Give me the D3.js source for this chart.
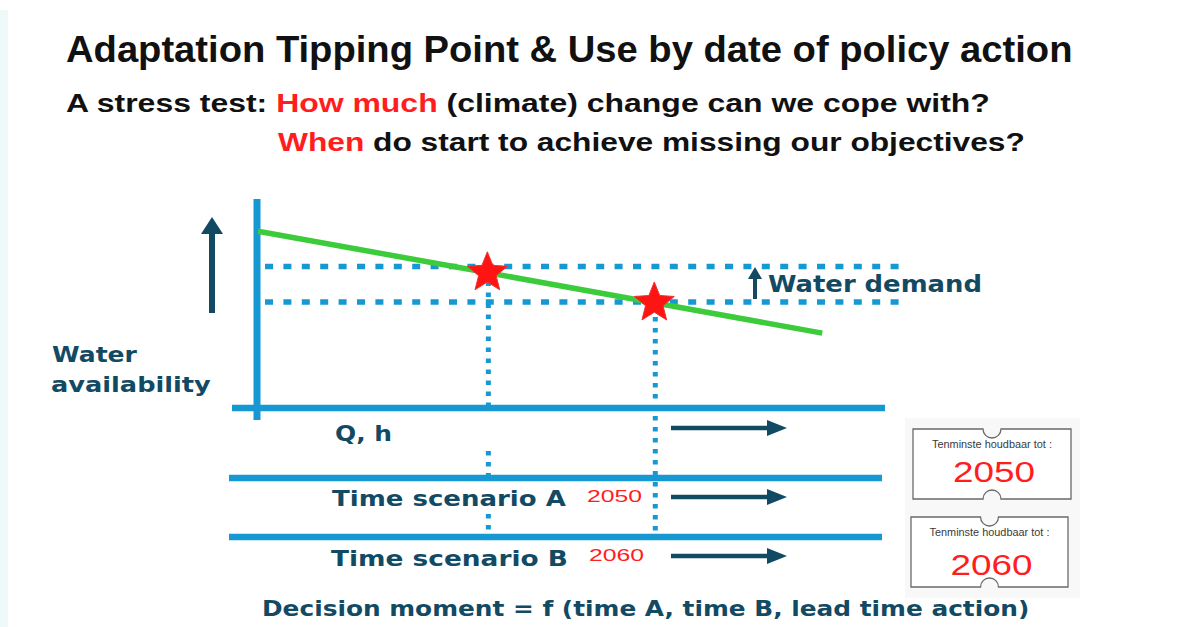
<!DOCTYPE html>
<html>
<head>
<meta charset="utf-8">
<script src="https://cdn.jsdelivr.net/npm/d3@7"></script>
<style>
  html, body { margin: 0; padding: 0; background: #fff; }
  svg { display: block; }
</style>
</head>
<body>
<svg id="chart" width="1198" height="627"></svg>
<script>
// ---------------- DATA ----------------
const titleText = "Adaptation Tipping Point & Use by date of policy action";
const questionLine1 = [["A stress test: ", "black"], ["How much", "red"], [" (climate) change can we cope with?", "black"]];
const questionLine2 = [["When", "red"], [" do start to achieve missing our objectives?", "black"]];
const yAxisLabel = ["Water", "availability"];
const demandLabel = "Water demand";

const lineYears = [2036.2, 2050, 2060, 2070];      // water availability curve
const availability = [85, 65, 50.5, 36];
const demandLevels = [68, 51];                     // current / increased water demand
const tippingYears = [2050, 2060];                 // adaptation tipping points
const tippingValues = [65, 50.5];

const rowLabels = ["Q, h", "Time scenario A", "Time scenario B"];
const rowYears = ["", "2050", "2060"];
const ticketCaption = "Tenminste houdbaar tot :";
const ticketYears = ["2050", "2060"];
const footerText = "Decision moment = f (time A, time B, lead time action)";

// ---------------- STYLE ----------------
const BLUE = "#1699d3", GREEN = "#3ccb3a", TEAL = "#124a64", RED = "#ff1d1d", STAR = "#ff1414";
const SANS = "'Liberation Sans', Arial, sans-serif";
const GEO = "'DejaVu Sans', 'Open Sans', sans-serif";

const svg = d3.select("#chart");
svg.append("rect").attr("width", 1198).attr("height", 627).attr("fill", "#fff");
svg.append("rect").attr("x", 0).attr("y", 10).attr("width", 8).attr("height", 617).attr("fill", "#eef9f9");

// scales
const x = d3.scaleLinear().domain([2036.2, 2074]).range([258, 889]);
const y = d3.scaleLinear().domain([0, 100]).range([408, 200]);
const rowY = d3.scaleOrdinal().domain(rowLabels).range([408, 478, 537]);

// text helper: draw text then stretch horizontally to target width
function fitText(parent, parts, x0, base, size, width, opts = {}) {
  const g = parent.append("g").attr("transform", `translate(${x0},${base})`);
  const t = g.append("text")
    .attr("x", 0).attr("y", 0)
    .attr("font-family", opts.family || SANS)
    .attr("font-weight", opts.weight || "bold")
    .attr("font-size", size)
    .attr("text-anchor", "start");
  parts.forEach(([s, c]) => t.append("tspan").attr("fill", c).text(s));
  const w = t.node().getComputedTextLength();
  const sx = width / w;
  t.attr("transform", `scale(${sx},1)`);
  return g;
}

// ---------- title ----------
fitText(svg, [[titleText, "#111"]], 66, 62, 37, 1007);
fitText(svg, questionLine1.map(([s, c]) => [s, c === "red" ? RED : "#111"]), 66, 112, 26, 924);
fitText(svg, questionLine2.map(([s, c]) => [s, c === "red" ? RED : "#111"]), 278, 151, 26, 747);

// ---------- ticket background ----------
svg.append("rect").attr("x", 905).attr("y", 418).attr("width", 175).attr("height", 180).attr("fill", "#f8f8f8");

// ---------- timeline rows ----------
const rowEnds = [885, 882, 882];
const rowStarts = [232, 229, 229];
svg.append("g").selectAll("line").data(rowLabels).join("line")
  .attr("x1", (d, i) => rowStarts[i]).attr("x2", (d, i) => rowEnds[i])
  .attr("y1", d => rowY(d)).attr("y2", d => rowY(d))
  .attr("stroke", BLUE).attr("stroke-width", 6.5);

// ---------- dotted demand lines ----------
svg.append("g").selectAll("line").data(demandLevels).join("line")
  .attr("x1", 265).attr("x2", 908)
  .attr("y1", d => y(d)).attr("y2", d => y(d))
  .attr("stroke", BLUE).attr("stroke-width", 5.5)
  .attr("stroke-dasharray", "8,10.4");

// ---------- vertical dotted lines at tipping points ----------
const vd = svg.append("g").attr("stroke", BLUE).attr("stroke-width", 5).attr("stroke-dasharray", "4.5,6.5");
vd.append("line").attr("x1", x(tippingYears[0])).attr("x2", x(tippingYears[0]))
  .attr("y1", y(demandLevels[0]) + 4).attr("y2", rowY(rowLabels[0]));
vd.append("line").attr("x1", x(tippingYears[0])).attr("x2", x(tippingYears[0]))
  .attr("y1", rowY(rowLabels[1]) - 27).attr("y2", rowY(rowLabels[1]));
vd.append("line").attr("x1", x(tippingYears[0])).attr("x2", x(tippingYears[0]))
  .attr("y1", rowY(rowLabels[2]) - 23).attr("y2", rowY(rowLabels[2]));
vd.append("line").attr("x1", x(tippingYears[1])).attr("x2", x(tippingYears[1]))
  .attr("y1", y(demandLevels[1]) + 4).attr("y2", rowY(rowLabels[2]));

// ---------- vertical axis ----------
svg.append("line").attr("x1", 257).attr("x2", 257).attr("y1", y(100.5)).attr("y2", 420)
  .attr("stroke", BLUE).attr("stroke-width", 7);

// ---------- availability line ----------
const line = d3.line().x((d, i) => x(lineYears[i])).y(d => y(d));
svg.append("path").datum(availability).attr("d", line)
  .attr("fill", "none").attr("stroke", GREEN).attr("stroke-width", 5.5);

// ---------- stars ----------
function starPath(R, r) {
  const pts = [];
  for (let i = 0; i < 10; i++) {
    const a = -Math.PI / 2 + i * Math.PI / 5;
    const rad = i % 2 === 0 ? R : r;
    pts.push([rad * Math.cos(a), rad * Math.sin(a)]);
  }
  return "M" + pts.map(p => p.join(",")).join("L") + "Z";
}
svg.append("g").selectAll("path").data(tippingYears).join("path")
  .attr("d", starPath(21, 9.2))
  .attr("transform", (d, i) => `translate(${x(d) - 1},${y(tippingValues[i])})`)
  .attr("fill", STAR).attr("stroke", "#f03030").attr("stroke-width", 1);

// ---------- arrows ----------
function arrow(x1, y1, x2, y2, sw, hl, hw) {
  const ang = Math.atan2(y2 - y1, x2 - x1);
  const bx = x2 - hl * Math.cos(ang), by = y2 - hl * Math.sin(ang);
  const g = svg.append("g");
  g.append("line").attr("x1", x1).attr("y1", y1).attr("x2", bx + Math.cos(ang)).attr("y2", by + Math.sin(ang))
    .attr("stroke", TEAL).attr("stroke-width", sw);
  const px = -Math.sin(ang), py = Math.cos(ang);
  g.append("path").attr("d", `M${x2},${y2}L${bx + px * hw},${by + py * hw}L${bx - px * hw},${by - py * hw}Z`)
    .attr("fill", TEAL);
}
arrow(212, 313, 212, 217, 6, 17, 11);
arrow(755, 299, 755, 267, 4, 12, 7);
const arrowY = [428, 497, 556];
rowLabels.forEach((d, i) => arrow(671, arrowY[i], 787, arrowY[i], 4.5, 20, 8));

// ---------- labels ----------
fitText(svg, [[yAxisLabel[0], TEAL]], 52, 362, 22, 85, { family: GEO });
fitText(svg, [[yAxisLabel[1], TEAL]], 51, 392, 22, 160, { family: GEO });
fitText(svg, [[demandLabel, TEAL]], 768, 292, 23, 214, { family: GEO });

const rowLabelX = [335, 332, 331], rowLabelW = [57, 234, 237], rowBase = [441, 506, 566];
rowLabels.forEach((d, i) => fitText(svg, [[d, TEAL]], rowLabelX[i], rowBase[i], 22, rowLabelW[i], { family: GEO }));
const rowYearX = [0, 587, 589], rowYearBase = [0, 502, 561];
rowYears.forEach((d, i) => { if (d) fitText(svg, [[d, RED]], rowYearX[i], rowYearBase[i], 16, 55, { weight: "normal" }); });

fitText(svg, [[footerText, TEAL]], 262, 616, 22, 768, { family: GEO });

// ---------- tickets ----------
const tickets = [{ x0: 913, y0: 429, x1: 1071, y1: 499, b: 17 }, { x0: 911, y0: 517, x1: 1068, y1: 587, b: 12 }];
tickets.forEach((t, i) => {
  const cx = (t.x0 + t.x1) / 2, r = 9;
  const p = `M${t.x0},${t.y0}H${cx - r}A${r},${r} 0 0 0 ${cx + r},${t.y0}H${t.x1}V${t.y1}H${cx + r}A${r},${r} 0 0 0 ${cx - r},${t.y1}H${t.x0}Z`;
  svg.append("path").attr("d", p).attr("fill", "#fff").attr("stroke", "#6a6a6a").attr("stroke-width", 1.3);
  fitText(svg, [[ticketCaption, "#3a3a3a"]], cx - 60, t.y0 + 19, 10, 120, { weight: "normal" });
  fitText(svg, [[ticketYears[i], RED]], cx - 39, t.y1 - t.b, 30, 82, { weight: "normal" });
});
</script>
</body>
</html>
